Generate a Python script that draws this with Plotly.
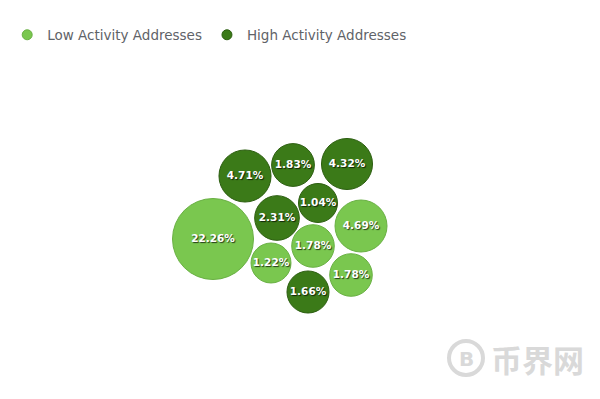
import numpy as np
import plotly.graph_objects as go

# ---- data ----
low_labels = ["22.26%", "4.69%", "1.78%", "1.22%", "1.78%"]
low_values = [22.26, 4.69, 1.78, 1.22, 1.78]
low_x = [213, 361, 313, 271, 351]
low_y = [239, 226, 246, 263, 275]

high_labels = ["4.71%", "1.83%", "4.32%", "1.04%", "2.31%", "1.66%"]
high_values = [4.71, 1.83, 4.32, 1.04, 2.31, 1.66]
high_x = [245, 293, 347, 318, 277, 308]
high_y = [176, 165, 164, 203, 218, 292]

LIGHT = "#7ac74f"
DARK = "#3b7a18"


def diam(vals):
    v = np.array(vals, dtype=float)
    return 2 * (13.7 + 5.68 * np.sqrt(v))


fig = go.Figure()
for name, xs, ys, vals, labs, col, edge in [
    ("Low Activity Addresses", low_x, low_y, low_values, low_labels, LIGHT, "#69b043"),
    ("High Activity Addresses", high_x, high_y, high_values, high_labels, DARK, "#2c5e10"),
]:
    fig.add_trace(go.Scatter(
        x=xs, y=ys, mode="markers+text", name=name, showlegend=False,
        text=labs, textposition="middle center",
        textfont=dict(family="DejaVu Sans", size=10.5, color="white", weight="bold",
                      shadow="1px 1px 1px rgba(0,0,0,0.7)"),
        marker=dict(size=diam(vals), sizemode="diameter", color=col,
                    line=dict(color=edge, width=1), opacity=1),
        hoverinfo="skip",
    ))
    # legend entry with small symbol
    fig.add_trace(go.Scatter(
        x=[None], y=[None], mode="markers", name=name,
        marker=dict(size=10, color=col, line=dict(color=edge, width=1)),
    ))

# site watermark
fig.add_shape(type="circle", xref="x", yref="y", x0=449, x1=483, y0=341, y1=375,
              line=dict(color="#d9d9d9", width=4), layer="below")
fig.add_annotation(x=466, y=359, xref="x", yref="y", text="B", showarrow=False,
                   font=dict(family="DejaVu Sans", size=20, color="#d9d9d9", weight="bold"))
fig.add_annotation(x=537, y=358, xref="x", yref="y", text="币界网", showarrow=False,
                   font=dict(family="Noto Sans CJK SC", size=31, color="#d9d9d9", weight="bold"))

fig.update_layout(
    width=600, height=399, margin=dict(l=0, r=0, t=0, b=0),
    paper_bgcolor="white", plot_bgcolor="white",
    xaxis=dict(range=[0, 600], visible=False, fixedrange=True),
    yaxis=dict(range=[399, 0], visible=False, fixedrange=True),
    showlegend=True,
    legend=dict(orientation="h", x=0.012, y=1 - 35 / 399, xanchor="left", yanchor="middle",
                font=dict(family="DejaVu Sans", size=13.5, color="#5f6368"),
                itemsizing="trace", bgcolor="rgba(0,0,0,0)"),
)
fig.write_html("out.html")
